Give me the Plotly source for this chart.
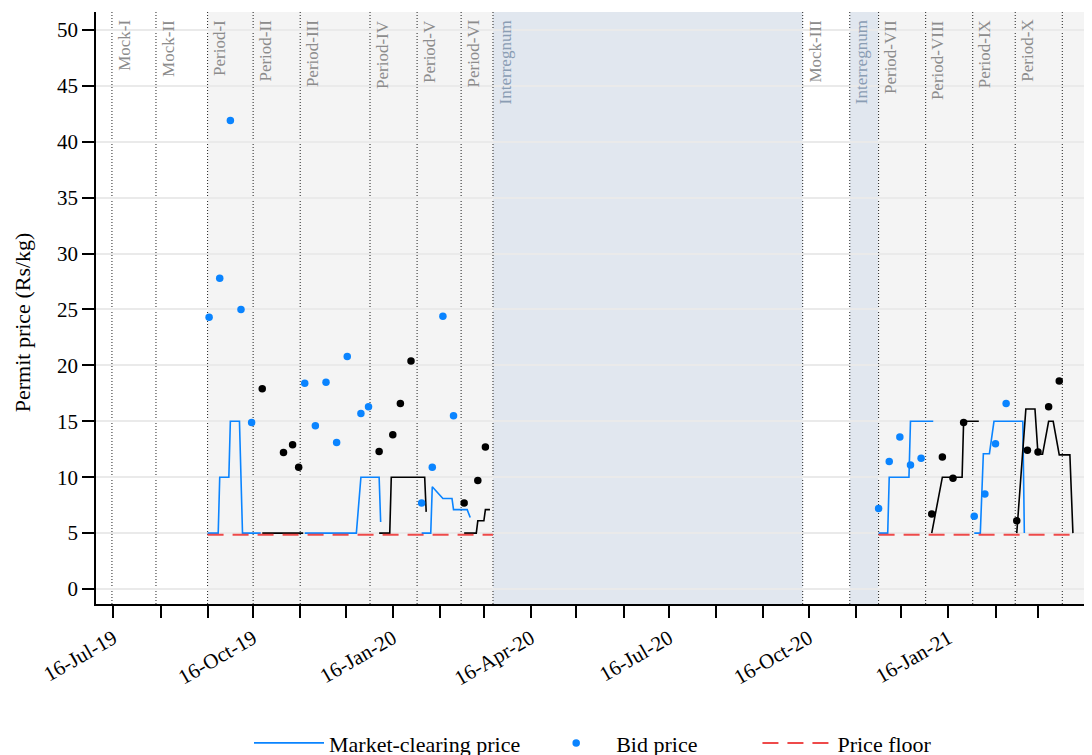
import plotly.graph_objects as go

# ---------------- data ----------------
# market-clearing price per compliance period (date, Rs/kg)
p1_dates = ["2019-09-16", "2019-09-23", "2019-09-24", "2019-09-30", "2019-10-01", "2019-10-07", "2019-10-09", "2019-10-21"]
p1_price = [5, 5, 10, 10, 15, 15, 5, 5]
p2_dates = ["2019-10-22", "2019-11-18"]
p2_price = [5, 5]
p3_dates = ["2019-11-19", "2019-12-23", "2019-12-26", "2020-01-07", "2020-01-08"]
p3_price = [5, 5, 10, 10, 6.0]
p4_dates = ["2020-01-07", "2020-01-14", "2020-01-15", "2020-02-06", "2020-02-07"]
p4_price = [5, 5, 10, 10, 6.9]
p5_dates = ["2020-02-04", "2020-02-10", "2020-02-11", "2020-02-18", "2020-02-24", "2020-02-25", "2020-03-05", "2020-03-07"]
p5_price = [5, 5, 9.15, 8.1, 8.1, 7.1, 7.1, 6.4]
p6_dates = ["2020-03-03", "2020-03-11", "2020-03-12", "2020-03-16", "2020-03-17", "2020-03-20"]
p6_price = [5, 5, 6.1, 6.1, 7.1, 7.1]
p7_dates = ["2020-12-01", "2020-12-07", "2020-12-08", "2020-12-21", "2020-12-22", "2021-01-06"]
p7_price = [5, 5, 10, 10, 15, 15]
p8_dates = ["2021-01-05", "2021-01-12", "2021-01-25", "2021-01-26", "2021-02-05"]
p8_price = [5, 10, 10, 15, 15]
p9_dates = ["2021-02-02", "2021-02-06", "2021-02-08", "2021-02-12", "2021-02-15", "2021-03-06", "2021-03-07"]
p9_price = [5, 5, 12.1, 12.1, 15, 15, 5]
p10_dates = ["2021-03-02", "2021-03-08", "2021-03-14", "2021-03-16", "2021-03-19", "2021-03-23", "2021-03-26", "2021-03-30", "2021-04-06", "2021-04-08"]
p10_price = [5, 16.1, 16.1, 12.05, 12.05, 15, 15, 12, 12, 5]

# weekly bid prices per period
b1_dates = ["2019-09-17", "2019-09-24", "2019-10-01", "2019-10-08", "2019-10-15"]
b1_price = [24.3, 27.8, 41.9, 25.0, 14.9]
b2_dates = ["2019-10-22", "2019-11-05", "2019-11-11", "2019-11-15"]
b2_price = [17.9, 12.2, 12.9, 10.9]
b3_dates = ["2019-11-19", "2019-11-26", "2019-12-03", "2019-12-10", "2019-12-17", "2019-12-26", "2019-12-31"]
b3_price = [18.4, 14.6, 18.5, 13.1, 20.8, 15.7, 16.3]
b4_dates = ["2020-01-07", "2020-01-16", "2020-01-21", "2020-01-28"]
b4_price = [12.3, 13.8, 16.6, 20.4]
b5_dates = ["2020-02-04", "2020-02-11", "2020-02-18", "2020-02-25"]
b5_price = [7.7, 10.9, 24.4, 15.5]
b6_dates = ["2020-03-03", "2020-03-12", "2020-03-17"]
b6_price = [7.7, 9.7, 12.7]
b7_dates = ["2020-12-01", "2020-12-08", "2020-12-15", "2020-12-22", "2020-12-29"]
b7_price = [7.2, 11.4, 13.6, 11.1, 11.7]
b8_dates = ["2021-01-05", "2021-01-12", "2021-01-19", "2021-01-26"]
b8_price = [6.7, 11.8, 9.9, 14.9]
b9_dates = ["2021-02-02", "2021-02-09", "2021-02-16", "2021-02-23"]
b9_price = [6.5, 8.5, 13.0, 16.6]
b10_dates = ["2021-03-02", "2021-03-09", "2021-03-16", "2021-03-23", "2021-03-30"]
b10_price = [6.1, 12.4, 12.25, 16.3, 18.6]

# price floor segments
floor_value = 4.85
floor1_dates = ["2019-09-16", "2020-03-22"]
floor2_dates = ["2020-12-01", "2021-04-08"]

# period boundaries
period_labels = ["Mock-I", "Mock-II", "Period-I", "Period-II", "Period-III", "Period-IV", "Period-V",
                 "Period-VI", "Interregnum", "Mock-III", "Interregnum", "Period-VII", "Period-VIII",
                 "Period-IX", "Period-X", ""]
period_starts = ["2019-07-15", "2019-08-13", "2019-09-16", "2019-10-16", "2019-11-16", "2020-01-01",
                 "2020-02-01", "2020-03-01", "2020-03-22", "2020-10-12", "2020-11-12", "2020-12-01",
                 "2021-01-01", "2021-02-01", "2021-03-01", "2021-04-01"]

x_range = ["2019-07-04 12:00", "2021-04-19 06:00"]
y_ticks = [0, 5, 10, 15, 20, 25, 30, 35, 40, 45, 50]
y_title = "Permit price (Rs/kg)"
legend_names = ["Market-clearing price", "Bid price", "Price floor"]

# ---------------- styling ----------------
BLUE = "#0A84FF"
BLACK = "#000000"
RED = "#EE4A4A"
GRAY_BG = "#F4F4F4"
INTER_BG = "#E1E7EF"
FONT = "'Liberation Serif', 'Times New Roman', Times, serif"
NBSP = "\u00a0"

lines = [(p1_dates, p1_price), (p2_dates, p2_price), (p3_dates, p3_price), (p4_dates, p4_price),
         (p5_dates, p5_price), (p6_dates, p6_price), (p7_dates, p7_price), (p8_dates, p8_price),
         (p9_dates, p9_price), (p10_dates, p10_price)]
bids = [(b1_dates, b1_price), (b2_dates, b2_price), (b3_dates, b3_price), (b4_dates, b4_price),
        (b5_dates, b5_price), (b6_dates, b6_price), (b7_dates, b7_price), (b8_dates, b8_price),
        (b9_dates, b9_price), (b10_dates, b10_price)]

fig = go.Figure()

for i, (d, v) in enumerate(lines):
    col = BLUE if i % 2 == 0 else BLACK
    fig.add_trace(go.Scatter(x=d, y=v, mode="lines", line=dict(color=col, width=1.6),
                             name=legend_names[0] + NBSP * 2, legendgroup="mcp",
                             showlegend=(i == 0), legendrank=1))

for i, (d, v) in enumerate(bids):
    col = BLUE if i % 2 == 0 else BLACK
    fig.add_trace(go.Scatter(x=d, y=v, mode="markers", marker=dict(color=col, size=7.5),
                             name=legend_names[1] + NBSP * 10, legendgroup="bid",
                             showlegend=(i == 0), legendrank=2))

for j, fd in enumerate([floor1_dates, floor2_dates]):
    fig.add_trace(go.Scatter(x=fd, y=[floor_value] * len(fd), mode="lines",
                             line=dict(color=RED, width=2, dash="16px,9px"),
                             name=legend_names[2], legendgroup="floor",
                             showlegend=(j == 0), legendrank=3))

shapes = []
bands = [
    (period_starts[2], period_starts[8], GRAY_BG),
    (period_starts[8], period_starts[9], INTER_BG),
    (period_starts[10], period_starts[11], INTER_BG),
    (period_starts[11], x_range[1], GRAY_BG),
]
for x0, x1, c in bands:
    shapes.append(dict(type="rect", xref="x", yref="paper", x0=x0, x1=x1, y0=0, y1=1,
                       fillcolor=c, line=dict(width=0), layer="below"))
for s in period_starts:
    shapes.append(dict(type="line", xref="x", yref="paper", x0=s, x1=s, y0=0, y1=1,
                       line=dict(color="#222222", width=1, dash="1px,2px"), layer="below"))

annotations = []
for lab, s in zip(period_labels, period_starts):
    if not lab:
        continue
    col = "#8A9DB4" if lab == "Interregnum" else "#8C8C8C"
    annotations.append(dict(x=s, y=0.99, xref="x", yref="paper", text=lab, showarrow=False,
                            textangle=-90, xanchor="left", yanchor="top", xshift=1,
                            font=dict(family=FONT, size=17, color=col)))
# y-axis title
annotations.append(dict(x=-0.0744, y=0.476, xref="paper", yref="paper", text=y_title,
                        showarrow=False, textangle=-90, xanchor="center", yanchor="middle",
                        font=dict(family=FONT, size=22, color="black")))

# page body has an 8px margin: figure is sized so the plot fills the 1092x755 window
fig.update_layout(
    width=1084, height=747,
    margin=dict(l=88, r=2, t=4, b=151, autoexpand=False),
    paper_bgcolor="white", plot_bgcolor="white",
    font=dict(family=FONT, size=21, color="black"),
    shapes=shapes, annotations=annotations,
    showlegend=True,
    legend=dict(orientation="h", x=0.5, xanchor="center", y=-0.235, yanchor="middle",
                font=dict(family=FONT, size=22), traceorder="normal", itemwidth=70),
)

fig.update_xaxes(
    type="date", range=x_range, automargin=False,
    tick0="2019-07-16", dtick="M3", tickformat="%d-%b-%y", tickangle=-30,
    ticks="outside", ticklen=12, tickwidth=1.5, tickcolor="black",
    showline=True, linecolor="black", linewidth=2,
    showgrid=False, zeroline=False,
    tickfont=dict(family=FONT, size=21),
    minor=dict(tick0="2019-07-16", dtick="M1", ticks="outside", ticklen=12, tickwidth=1.5,
               tickcolor="black", showgrid=False),
)
fig.update_yaxes(
    range=[-1.34, 51.6], tickvals=y_ticks, automargin=False,
    ticks="outside", ticklen=12, tickwidth=1.5, tickcolor="black",
    showline=True, linecolor="black", linewidth=1.5,
    showgrid=True, gridcolor="#EAEAEA", gridwidth=2, zeroline=False,
    tickfont=dict(family=FONT, size=21),
)

fig.write_html("out.html")
